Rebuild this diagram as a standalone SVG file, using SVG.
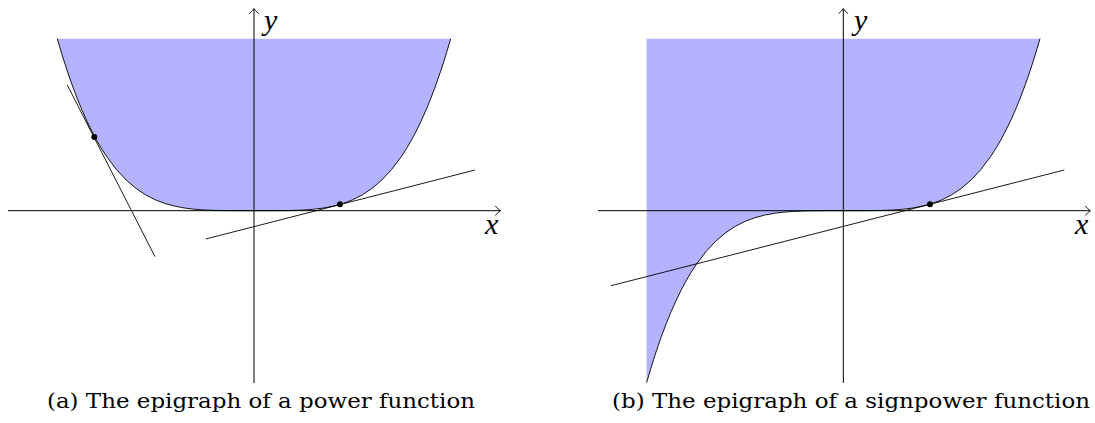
<svg xmlns="http://www.w3.org/2000/svg" width="1095" height="423" viewBox="0 0 1095 423">
<style>
.fill{fill:#b3b3ff;stroke:none}
.axis{stroke:#000;stroke-width:1;fill:none}
.curve{stroke:#000;stroke-width:0.9;fill:none;vector-effect:non-scaling-stroke}
.tan{stroke:#000;stroke-width:0.9;fill:none}
.dot{fill:#000}
.lbl{font-family:"Liberation Serif","DejaVu Serif",serif;font-style:italic;font-size:30px;fill:#000}
.cap{font-family:"DejaVu Serif","Liberation Serif",serif;font-size:20px;fill:#000}
</style>
<defs>
<marker id="arr" markerUnits="userSpaceOnUse" markerWidth="12" markerHeight="12" refX="0" refY="0" viewBox="-8 -6 12 12" orient="auto" overflow="visible">
<path d="M-4.5,-4.5 Q-1.5,-1 0.5,0 Q-1.5,1 -4.5,4.5" fill="none" stroke="#000" stroke-width="0.9" stroke-linecap="round"/>
</marker>
</defs>

<g id="plot-a">
  <g transform="translate(254,210.7) scale(196.7,-172)">
    <path class="fill" d="M-1,1 L-0.975,0.9037 L-0.95,0.8145 L-0.925,0.7321 L-0.9,0.6561 L-0.875,0.5862 L-0.85,0.522 L-0.825,0.4633 L-0.8,0.4096 L-0.775,0.3608 L-0.75,0.3164 L-0.7,0.2401 L-0.65,0.1785 L-0.6,0.1296 L-0.55,0.0915 L-0.5,0.0625 L-0.45,0.041 L-0.4,0.0256 L-0.35,0.015 L-0.3,0.0081 L-0.25,0.0039 L-0.2,0.0016 L-0.15,0.0005 L-0.1,0.0001 L0,0 L0.1,0.0001 L0.15,0.0005 L0.2,0.0016 L0.25,0.0039 L0.3,0.0081 L0.35,0.015 L0.4,0.0256 L0.45,0.041 L0.5,0.0625 L0.55,0.0915 L0.6,0.1296 L0.65,0.1785 L0.7,0.2401 L0.75,0.3164 L0.775,0.3608 L0.8,0.4096 L0.825,0.4633 L0.85,0.522 L0.875,0.5862 L0.9,0.6561 L0.925,0.7321 L0.95,0.8145 L0.975,0.9037 L1,1 Z"/>
  </g>
  <line class="axis" x1="8" y1="210.7" x2="500" y2="210.7" marker-end="url(#arr)"/>
  <line class="axis" x1="254" y1="383" x2="254" y2="9" marker-end="url(#arr)"/>
  <g transform="translate(254,210.7) scale(196.7,-172)">
    <path class="curve" d="M-1,1 L-0.975,0.9037 L-0.95,0.8145 L-0.925,0.7321 L-0.9,0.6561 L-0.875,0.5862 L-0.85,0.522 L-0.825,0.4633 L-0.8,0.4096 L-0.775,0.3608 L-0.75,0.3164 L-0.7,0.2401 L-0.65,0.1785 L-0.6,0.1296 L-0.55,0.0915 L-0.5,0.0625 L-0.45,0.041 L-0.4,0.0256 L-0.35,0.015 L-0.3,0.0081 L-0.25,0.0039 L-0.2,0.0016 L-0.15,0.0005 L-0.1,0.0001 L0,0 L0.1,0.0001 L0.15,0.0005 L0.2,0.0016 L0.25,0.0039 L0.3,0.0081 L0.35,0.015 L0.4,0.0256 L0.45,0.041 L0.5,0.0625 L0.55,0.0915 L0.6,0.1296 L0.65,0.1785 L0.7,0.2401 L0.75,0.3164 L0.775,0.3608 L0.8,0.4096 L0.825,0.4633 L0.85,0.522 L0.875,0.5862 L0.9,0.6561 L0.925,0.7321 L0.95,0.8145 L0.975,0.9037 L1,1"/>
  </g>
  <line class="tan" x1="67.3" y1="85" x2="155" y2="256.7"/>
  <line class="tan" x1="205.7" y1="239" x2="475" y2="170"/>
  <circle class="dot" cx="94.3" cy="137" r="3"/>
  <circle class="dot" cx="340" cy="204.3" r="3"/>
  <text class="lbl" x="264" y="30">y</text>
  <text class="lbl" x="485" y="234">x</text>
  <text class="cap" x="261" y="408" text-anchor="middle" textLength="428" lengthAdjust="spacingAndGlyphs">(a) The epigraph of a power function</text>
</g>

<g id="plot-b">
  <g transform="translate(843.3,210.7) scale(196.7,-172)">
    <path class="fill" d="M-1,1 L-1,-1 L-0.975,-0.9037 L-0.95,-0.8145 L-0.925,-0.7321 L-0.9,-0.6561 L-0.875,-0.5862 L-0.85,-0.522 L-0.825,-0.4633 L-0.8,-0.4096 L-0.775,-0.3608 L-0.75,-0.3164 L-0.7,-0.2401 L-0.65,-0.1785 L-0.6,-0.1296 L-0.55,-0.0915 L-0.5,-0.0625 L-0.45,-0.041 L-0.4,-0.0256 L-0.35,-0.015 L-0.3,-0.0081 L-0.25,-0.0039 L-0.2,-0.0016 L-0.15,-0.0005 L-0.1,-0.0001 L0,0 L0.1,0.0001 L0.15,0.0005 L0.2,0.0016 L0.25,0.0039 L0.3,0.0081 L0.35,0.015 L0.4,0.0256 L0.45,0.041 L0.5,0.0625 L0.55,0.0915 L0.6,0.1296 L0.65,0.1785 L0.7,0.2401 L0.75,0.3164 L0.775,0.3608 L0.8,0.4096 L0.825,0.4633 L0.85,0.522 L0.875,0.5862 L0.9,0.6561 L0.925,0.7321 L0.95,0.8145 L0.975,0.9037 L1,1 Z"/>
  </g>
  <line class="axis" x1="598" y1="210.7" x2="1090" y2="210.7" marker-end="url(#arr)"/>
  <line class="axis" x1="843.3" y1="383" x2="843.3" y2="9" marker-end="url(#arr)"/>
  <g transform="translate(843.3,210.7) scale(196.7,-172)">
    <path class="curve" d="M-1,-1 L-0.975,-0.9037 L-0.95,-0.8145 L-0.925,-0.7321 L-0.9,-0.6561 L-0.875,-0.5862 L-0.85,-0.522 L-0.825,-0.4633 L-0.8,-0.4096 L-0.775,-0.3608 L-0.75,-0.3164 L-0.7,-0.2401 L-0.65,-0.1785 L-0.6,-0.1296 L-0.55,-0.0915 L-0.5,-0.0625 L-0.45,-0.041 L-0.4,-0.0256 L-0.35,-0.015 L-0.3,-0.0081 L-0.25,-0.0039 L-0.2,-0.0016 L-0.15,-0.0005 L-0.1,-0.0001 L0,0 L0.1,0.0001 L0.15,0.0005 L0.2,0.0016 L0.25,0.0039 L0.3,0.0081 L0.35,0.015 L0.4,0.0256 L0.45,0.041 L0.5,0.0625 L0.55,0.0915 L0.6,0.1296 L0.65,0.1785 L0.7,0.2401 L0.75,0.3164 L0.775,0.3608 L0.8,0.4096 L0.825,0.4633 L0.85,0.522 L0.875,0.5862 L0.9,0.6561 L0.925,0.7321 L0.95,0.8145 L0.975,0.9037 L1,1"/>
  </g>
  <line class="tan" x1="611" y1="285.7" x2="1064.3" y2="170"/>
  <circle class="dot" cx="930" cy="204.3" r="3"/>
  <text class="lbl" x="854" y="30">y</text>
  <text class="lbl" x="1075" y="234">x</text>
  <text class="cap" x="851" y="408" text-anchor="middle" textLength="478" lengthAdjust="spacingAndGlyphs">(b) The epigraph of a signpower function</text>
</g>
</svg>
